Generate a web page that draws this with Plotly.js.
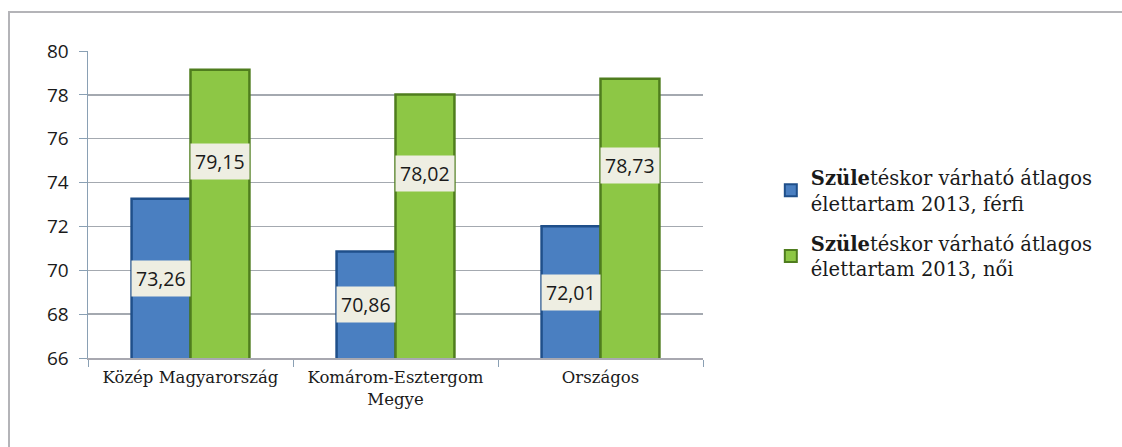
<!DOCTYPE html>
<html>
<head>
<meta charset="utf-8">
<script src="https://cdn.plot.ly/plotly-3.0.1.min.js"></script>
<style>
  html, body { margin: 0; padding: 0; background: #ffffff; }
  #wrap { position: relative; width: 1122px; height: 447px; overflow: hidden; }
  #frame { position: absolute; left: 8px; top: 11px; width: 1200px; height: 500px;
           border-top: 2px solid #b4b4b8; border-left: 2px solid #b4b4b8; }
  #chart { position: absolute; left: 0; top: 0; width: 1122px; height: 447px; }
</style>
</head>
<body>
<div id="wrap">
  <div id="frame"></div>
  <div id="chart"></div>
</div>
<script>
// ---- data ----
const categories = ['Közép Magyarország', 'Komárom-Esztergom<br>Megye', 'Országos'];
const ferfi = [73.26, 70.86, 72.01];
const noi = [79.15, 78.02, 78.73];
const seriesNames = [
  '<b>Szüle</b>téskor várható átlagos<br>élettartam 2013, férfi',
  '<b>Szüle</b>téskor várható átlagos<br>élettartam 2013, női'
];
const yTicks = [66, 68, 70, 72, 74, 76, 78, 80];

// ---- style ----
const bargap = 0.425;
const yMin = 66, yMax = 80;
const fmt = v => v.toFixed(2).replace('.', ',');

const traces = [
  {
    type: 'bar', x: categories, y: ferfi, name: seriesNames[0], legendgroup: 'f',
    marker: { color: '#4a7fc1', line: { color: '#1f4f8a', width: 2.5 } },
    hoverinfo: 'none'
  },
  {
    type: 'bar', x: categories, y: noi, name: seriesNames[1], legendgroup: 'n',
    marker: { color: '#8dc745', line: { color: '#4f7d1e', width: 2.5 } },
    hoverinfo: 'none'
  }
];

const half = (1 - bargap) / 4;
const labelFont = { family: 'Open Sans, Liberation Sans, sans-serif', size: 19.5, color: '#1a1a1a' };
const annotations = [];
ferfi.forEach((v, i) => annotations.push({
  x: i - half, y: (v + yMin) / 2, xref: 'x', yref: 'y', text: fmt(v),
  showarrow: false, bgcolor: '#eeeee2', borderpad: 4, font: labelFont
}));
noi.forEach((v, i) => annotations.push({
  x: i + half, y: (v + yMin) / 2 + 2.4, xref: 'x', yref: 'y', text: fmt(v),
  showarrow: false, bgcolor: '#eeeee2', borderpad: 4, font: labelFont
}));

const layout = {
  width: 1122, height: 447,
  margin: { l: 88, r: 419, t: 51, b: 89, autoexpand: false },
  paper_bgcolor: 'rgba(0,0,0,0)', plot_bgcolor: 'rgba(0,0,0,0)',
  barmode: 'group', bargap: bargap, bargroupgap: 0,
  showlegend: true,
  legend: {
    xref: 'container', yref: 'container',
    x: 0.687, xanchor: 'left', y: 0.5, yanchor: 'middle',
    traceorder: 'grouped',
    font: { family: 'DejaVu Serif, serif', size: 19.5, color: '#1a1a1a' },
    tracegroupgap: 12, itemwidth: 30, itemsizing: 'constant', bgcolor: 'rgba(0,0,0,0)'
  },
  xaxis: {
    type: 'category', tickson: 'boundaries', ticks: 'outside', ticklen: 7,
    tickcolor: '#8aa0b4', showline: true, linecolor: '#a8a8b0', linewidth: 1.5,
    showgrid: false, zeroline: false, ticklabelstandoff: 4,
    tickfont: { family: 'DejaVu Serif, serif', size: 16.5, color: '#1a1a1a' }
  },
  yaxis: {
    range: [yMin, yMax], tickvals: yTicks, ticktext: yTicks.map(String),
    ticks: 'outside', ticklen: 8, tickcolor: '#8aa0b4', ticklabelstandoff: 6,
    showline: true, linecolor: '#8aa0b4', linewidth: 1.5,
    showgrid: true, gridcolor: '#a4a9b0', gridwidth: 1.5, zeroline: false,
    tickfont: { family: 'Open Sans, Liberation Sans, sans-serif', size: 19, color: '#1a1a1a' }
  },
  annotations: annotations
};

Plotly.newPlot('chart', traces, layout, { displayModeBar: false, staticPlot: true });
</script>
</body>
</html>
